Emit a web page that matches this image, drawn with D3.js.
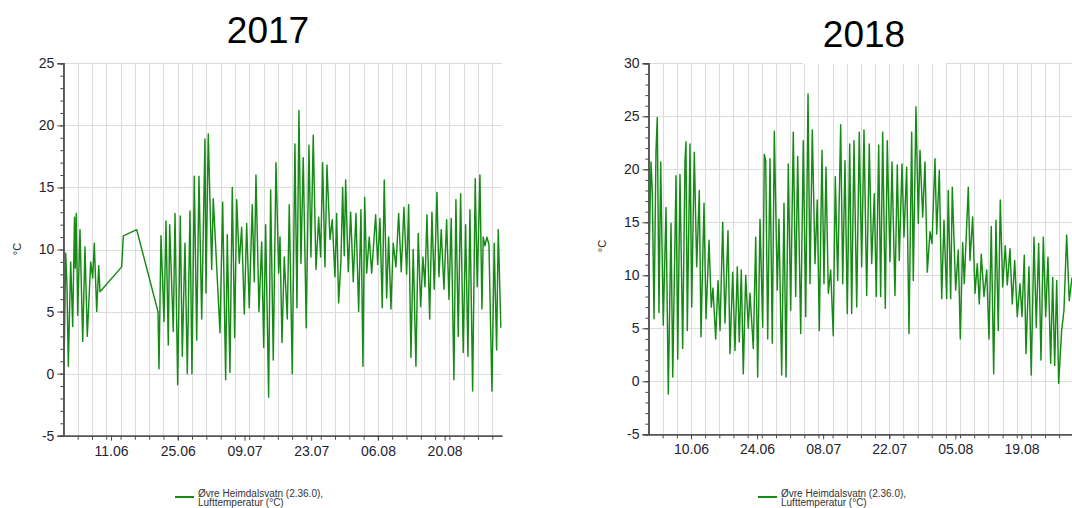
<!DOCTYPE html>
<html>
<head>
<meta charset="utf-8">
<script src="https://cdn.jsdelivr.net/npm/d3@7/dist/d3.min.js"></script>
<style>
  html, body { margin: 0; padding: 0; background: #fff; overflow: hidden; }
  svg { display: block; font-family: "Liberation Sans", Arial, sans-serif; }
</style>
</head>
<body>
<svg id="chart" width="1072" height="508"></svg>
<script>
// Air temperature at Øvre Heimdalsvatn, summer 2017 and 2018.
// Time is given in days since 1 June of each year; values in °C.

const days2017 = [
  0, 0.48, 0.76, 1.03, 1.53, 1.95, 2.33, 2.50, 2.71, 3.00, 3.48, 4.05, 4.53, 5.01, 5.73, 6.15, 6.48, 6.99, 7.41, 7.68,
  12.23, 12.57, 15.38, 19.85,
  20.06, 20.48, 21.11, 21.53, 22.01, 22.30, 23.06, 23.42, 23.98, 24.53, 24.95, 25.51, 26.00, 26.56, 26.98, 27.47, 27.97, 28.45,
  29.02, 29.71, 29.92, 30.40, 31.12, 31.45, 32.86, 33.42, 34.05, 34.39, 34.95, 35.44, 35.94, 36.36, 36.91, 37.41, 37.96, 38.46,
  39.00, 39.63, 40.05, 40.41, 41.04, 41.61, 42.03, 42.44, 43.07, 43.49, 44.04, 44.61, 45.17, 45.45, 45.87, 46.35, 46.98, 47.40,
  48.03, 48.59, 49.01, 49.43, 49.85, 50.33, 50.96, 51.53, 51.95, 52.43, 53.00, 53.57, 53.98, 54.40, 54.89, 55.31, 55.94, 56.42,
  56.99, 57.34, 57.76, 58.24, 58.60, 58.94, 59.23, 59.78, 60.28, 60.83, 61.39, 61.96, 62.44, 62.86, 63.22, 63.64, 64.18, 64.69,
  65.53, 65.95, 66.43, 66.91, 67.33, 67.83, 68.25, 68.74, 69.22, 69.79, 70.35, 70.90, 71.46, 72.03, 72.45, 72.93, 73.41, 73.98,
  74.46, 74.97, 75.45, 75.87, 76.29, 76.86, 77.34, 77.82, 78.39, 78.81, 79.29, 79.86, 80.42, 80.91, 81.39, 81.95, 82.37, 82.86,
  83.36, 83.90, 84.41, 84.89, 85.31, 85.88, 86.42, 86.84, 87.41, 87.83, 88.10, 88.46, 88.88, 89.30, 89.93, 90.41, 90.91, 91.25,
  91.81
];
const temps2017 = [
  -2.9, 9.7, 7.0, 0.6, 9.0, 3.8, 12.6, 8.5, 12.9, 4.7, 11.6, 2.6, 10.2, 3.0, 9.0, 7.7, 10.5, 5.0, 8.7, 6.6,
  8.6, 11.1, 11.6, 5.0,
  0.4, 11.1, 4.2, 12.3, 2.3, 12.0, 3.4, 12.9, -0.9, 12.7, 1.4, 10.5, 0.0, 13.1, 0.0, 15.9, 2.7, 15.9,
  4.4, 18.9, 6.5, 19.3, 8.4, 14.1, 3.3, 13.8, -0.5, 11.2, 0.1, 15.0, 2.9, 14.0, 8.9, 11.8, 4.8, 12.1,
  5.3, 13.6, 7.4, 16.0, 5.0, 10.6, 2.1, 12.0, -1.9, 14.8, 1.1, 17.0, 8.1, 11.0, 2.5, 9.4, 4.4, 13.6,
  0.0, 18.5, 5.3, 21.2, 8.9, 17.4, 3.7, 18.4, 9.4, 19.2, 8.4, 12.6, 9.4, 17.0, 8.6, 16.8, 10.8, 12.4,
  7.8, 12.9, 5.7, 9.0, 15.0, 9.5, 15.6, 8.2, 13.0, 7.4, 12.9, 5.0, 13.2, 0.6, 14.2, 8.1, 11.0, 8.1,
  12.8, 8.8, 12.5, 5.3, 15.6, 6.1, 11.0, 5.2, 10.5, 8.6, 12.9, 8.2, 13.4, 8.0, 13.6, 1.3, 10.0, 0.6,
  11.3, 5.4, 9.4, 7.0, 12.8, 4.4, 13.0, 6.8, 14.6, 7.8, 11.6, 6.8, 12.4, 6.0, 12.5, -0.5, 14.0, 3.0,
  14.5, 1.7, 12.0, 1.4, 13.2, -1.4, 15.7, 7.0, 16.0, 5.2, 11.0, 10.3, 11.0, 10.4, -1.4, 10.5, 1.9, 11.6,
  3.7
];

const days2018 = [
  0, 0.53, 0.80, 1.17, 1.59, 1.86, 2.22, 2.58, 3.13, 3.71, 4.19, 4.77, 5.13, 5.83, 6.19, 6.67, 7.24, 7.73, 7.94, 8.22,
  8.79, 9.15, 9.70, 10.21, 10.76, 11.12, 11.76, 12.18, 12.82, 13.30, 13.66, 14.23, 14.72, 15.15, 15.72, 16.20, 16.84, 17.26,
  17.84, 18.32, 18.81, 19.23, 19.66, 20.08, 20.59, 21.14, 21.50, 22.20, 22.71, 23.13, 23.62, 24.19, 24.53, 24.83, 25.25, 25.74,
  26.22, 26.65, 27.28, 27.64, 28.21, 28.70, 29.13, 29.61, 30.12, 30.67, 31.18, 31.60, 32.24, 32.79, 33.30, 33.79, 34.21, 34.70,
  35.27, 35.75, 36.18, 36.75, 37.17, 37.60, 38.09, 38.59, 39.14, 39.57, 40.08, 40.71, 41.14, 41.62, 42.11, 42.62, 43.04, 43.53,
  44.10, 44.65, 45.16, 45.65, 46.22, 46.77, 47.28, 47.83, 48.25, 48.76, 49.18, 49.61, 50.16, 50.58, 51.15, 51.58, 52.21, 52.70,
  53.12, 53.70, 54.12, 54.69, 55.18, 55.75, 56.09, 56.66, 57.15, 57.51, 58.08, 58.57, 59.06, 59.63, 60.05, 60.69, 61.05, 61.60,
  62.11, 62.59, 63.16, 63.50, 64.01, 64.35, 65.07, 65.62, 66.05, 66.55, 66.89, 67.74, 68.10, 68.67, 69.16, 69.65, 70.07, 70.49,
  71.07, 71.64, 72.13, 72.61, 73.12, 73.61, 74.09, 74.52, 75.03, 75.58, 76.00, 76.57, 77.06, 77.57, 78.12, 78.69, 79.12, 79.60,
  79.96, 80.60, 81.08, 81.66, 82.14, 82.65, 83.14, 83.63, 84.14, 84.62, 85.19, 85.62, 86.04, 86.47, 86.89, 87.52, 88.01, 88.58,
  89.13, 89.71
];
const temps2018 = [
  8.8, 20.7, 18.0, 5.9, 21.8, 24.9, 6.5, 20.7, 5.3, 16.4, -1.2, 14.9, 0.4, 19.4, 2.1, 19.5, 3.1, 20.8, 22.6, 4.8,
  22.4, 7.0, 21.6, 10.8, 18.0, 4.2, 16.8, 5.9, 13.3, 7.0, 8.8, 4.0, 9.5, 4.8, 15.0, 5.5, 14.2, 2.6,
  10.3, 2.9, 10.8, 3.7, 10.5, 0.7, 10.0, 5.0, 8.3, 3.1, 13.6, 0.4, 15.3, 5.1, 21.4, 20.8, 4.0, 21.0,
  3.6, 23.6, 8.6, 15.3, 0.6, 16.8, 0.4, 20.5, 6.7, 23.5, 8.0, 21.2, 4.5, 22.7, 6.1, 27.1, 9.2, 23.7,
  11.1, 17.1, 4.8, 21.8, 9.2, 20.2, 8.3, 10.5, 4.3, 19.3, 9.5, 24.2, 9.2, 20.8, 6.4, 22.4, 6.4, 22.7,
  7.0, 23.5, 10.8, 23.7, 8.1, 22.4, 11.1, 17.7, 8.0, 22.3, 8.0, 23.5, 6.9, 22.7, 11.3, 20.7, 8.1, 20.4,
  11.4, 20.5, 13.6, 20.2, 4.5, 23.5, 9.5, 25.9, 14.9, 21.8, 15.5, 20.7, 10.3, 14.1, 13.0, 21.0, 13.9, 19.9,
  7.8, 15.2, 7.8, 18.0, 7.8, 18.3, 8.6, 12.4, 4.0, 13.1, 9.2, 18.3, 11.4, 15.5, 8.3, 11.1, 7.3, 12.0,
  8.0, 10.5, 4.0, 14.6, 0.7, 15.2, 4.8, 17.1, 8.9, 12.8, 9.1, 12.5, 7.3, 11.4, 6.1, 9.2, 6.1, 11.9,
  2.6, 10.8, 0.6, 13.6, 5.1, 13.0, 2.0, 13.6, 6.1, 11.7, 1.7, 9.8, 1.5, 9.5, -0.2, 4.8, 6.7, 13.8,
  7.6, 9.8
];

const yTicks2017 = [-5, 0, 5, 10, 15, 20, 25];
const yTicks2018 = [-5, 0, 5, 10, 15, 20, 25, 30];
const dateLabels2017 = ["11.06", "25.06", "09.07", "23.07", "06.08", "20.08"];
const dateLabels2018 = ["10.06", "24.06", "08.07", "22.07", "05.08", "19.08"];
const seriesName = ["Øvre Heimdalsvatn (2.36.0),", "Lufttemperatur (°C)"];
const unitLabel = "°C";

const svg = d3.select("#chart");
const DAY = 86400000;
const fmt = d3.utcFormat("%d.%m");
const LINE_COLOR = "#158a15";

const panels = [
  { year: 2017, days: days2017, temps: temps2017, yTicks: yTicks2017, labels: dateLabels2017,
    left: 63.4, right: 501.8, top: 63.3, bottom: 435.7,
    title: [268, 43], unit: [20.5, 249], legend: [175, 497] },
  { year: 2018, days: days2018, temps: temps2018, yTicks: yTicks2018, labels: dateLabels2018,
    left: 648.5, right: 1082.8, top: 63.3, bottom: 434.3,
    title: [864, 47], unit: [605.5, 246], legend: [758, 497], titleBox: [803, 946] }
];

panels.forEach(p => {
  const start = new Date(Date.UTC(p.year, 5, 1));
  const end = new Date(Date.UTC(p.year, 8, 1));
  const x = d3.scaleUtc().domain([start, end]).range([p.left, p.right]);
  const yMin = d3.min(p.yTicks), yMax = d3.max(p.yTicks);
  const y = d3.scaleLinear().domain([yMin, yMax]).range([p.bottom, p.top]);

  const g = svg.append("g");

  // grid: vertical every third day, horizontal at each labelled value
  const gridDates = d3.range(3, 92, 3).map(d => d3.utcDay.offset(start, d));
  g.append("g").selectAll("line").data(gridDates).join("line")
    .attr("x1", d => Math.round(x(d)) + 0.5).attr("x2", d => Math.round(x(d)) + 0.5)
    .attr("y1", p.top).attr("y2", p.bottom)
    .attr("stroke", "#dcdcdc").attr("stroke-width", 1);
  g.append("g").selectAll("line").data(p.yTicks.filter(v => v !== yMin)).join("line")
    .attr("x1", p.left).attr("x2", p.right)
    .attr("y1", d => Math.round(y(d)) + 0.5).attr("y2", d => Math.round(y(d)) + 0.5)
    .attr("stroke", "#dcdcdc").attr("stroke-width", 1);

  if (p.titleBox) {
    g.append("rect").attr("x", p.titleBox[0]).attr("y", 0)
      .attr("width", p.titleBox[1] - p.titleBox[0]).attr("height", p.top + 0.6)
      .attr("fill", "#fff");
  }

  // temperature line
  const clipId = "clip" + p.year;
  svg.append("clipPath").attr("id", clipId).append("rect")
    .attr("x", p.left).attr("y", p.top - 2).attr("width", p.right - p.left).attr("height", p.bottom - p.top + 2);
  const pts = p.days.map((d, k) => [new Date(start.getTime() + d * DAY), p.temps[k]]);
  const line = d3.line().x(d => x(d[0])).y(d => y(d[1]));
  g.append("path").datum(pts)
    .attr("clip-path", `url(#${clipId})`)
    .attr("d", line)
    .attr("fill", "none")
    .attr("stroke", LINE_COLOR)
    .attr("stroke-width", 1.45)
    .attr("stroke-linejoin", "round");

  // y axis: minor ticks each degree, major ticks with labels
  const yMinor = g.append("g").attr("transform", `translate(${p.left},0)`)
    .call(d3.axisLeft(y).tickValues(d3.range(yMin, yMax + 1, 1)).tickSize(3).tickFormat(""));
  const yMajor = g.append("g").attr("transform", `translate(${p.left},0)`)
    .call(d3.axisLeft(y).tickValues(p.yTicks).tickSize(6).tickPadding(3).tickFormat(d => String(d)));
  [yMinor, yMajor].forEach(a => {
    a.selectAll("path").attr("stroke", "#555").attr("stroke-width", 1.6);
    a.selectAll("line").attr("stroke", "#444");
  });
  yMajor.selectAll("text").attr("font-size", 14).attr("fill", "#1f2230")
    .attr("font-family", "'Liberation Sans', Arial, sans-serif");

  // x axis: small ticks at grid days, labelled ticks every two weeks
  const majorDates = p.labels.map(s => d3.utcParse("%d.%m.%Y")(s + "." + p.year));
  const xMinor = g.append("g").attr("transform", `translate(0,${p.bottom})`)
    .call(d3.axisBottom(x).tickValues(gridDates).tickSize(4).tickFormat("").tickSizeOuter(0));
  const xMajor = g.append("g").attr("transform", `translate(0,${p.bottom})`)
    .call(d3.axisBottom(x).tickValues(majorDates).tickSize(5).tickPadding(5).tickFormat(fmt).tickSizeOuter(0));
  [xMinor, xMajor].forEach(a => {
    a.selectAll("path").attr("stroke", "#555").attr("stroke-width", 1.6);
    a.selectAll("line").attr("stroke", "#444");
  });
  xMajor.selectAll("text").attr("font-size", 14).attr("fill", "#1f2230")
    .attr("font-family", "'Liberation Sans', Arial, sans-serif");

  // title
  svg.append("text").attr("x", p.title[0]).attr("y", p.title[1])
    .attr("text-anchor", "middle").attr("font-size", 37).attr("fill", "#000")
    .text(p.year);

  // unit label
  svg.append("text")
    .attr("transform", `translate(${p.unit[0]},${p.unit[1]}) rotate(-90)`)
    .attr("text-anchor", "middle").attr("font-size", 11).attr("fill", "#222")
    .text(unitLabel);

  // legend
  const lg = svg.append("g").attr("transform", `translate(${p.legend[0]},${p.legend[1]})`);
  lg.append("line").attr("x1", 0).attr("x2", 19).attr("y1", 0).attr("y2", 0)
    .attr("stroke", LINE_COLOR).attr("stroke-width", 2);
  lg.selectAll("text").data(seriesName).join("text")
    .attr("x", 23).attr("y", (d, k) => -0.5 + k * 9.5)
    .attr("font-size", 10).attr("fill", "#333")
    .text(d => d);
});
</script>
</body>
</html>
